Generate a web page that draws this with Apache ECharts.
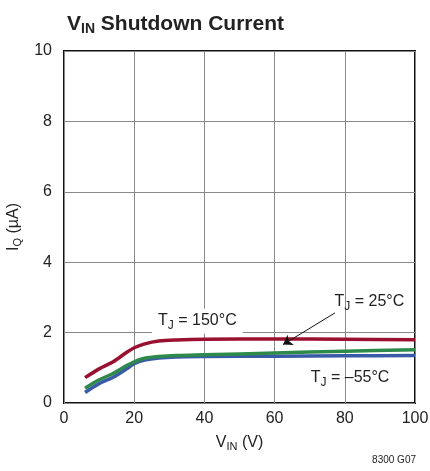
<!DOCTYPE html>
<html><head><meta charset="utf-8">
<script src="https://cdn.jsdelivr.net/npm/echarts@6/dist/echarts.min.js"></script>
<style>html,body{margin:0;padding:0;background:#fff}#c{width:430px;height:471px}</style>
</head><body><div id="c"></div>
<script>
const xTicks = [0, 20, 40, 60, 80, 100];
const yTicks = [0, 2, 4, 6, 8, 10];
const vin = [6, 10, 14, 18, 20, 23, 27, 32, 40, 60, 80, 100];
const t150 = [0.72, 0.97, 1.17, 1.45, 1.57, 1.68, 1.76, 1.79, 1.81, 1.82, 1.81, 1.80];
const t25  = [0.42, 0.66, 0.84, 1.07, 1.17, 1.27, 1.32, 1.35, 1.37, 1.42, 1.47, 1.51];
const tm55 = [0.30, 0.55, 0.73, 0.98, 1.12, 1.22, 1.28, 1.31, 1.32, 1.33, 1.34, 1.35];
const font = '"Liberation Sans Narrow","Arial Narrow","Liberation Sans",Arial,sans-serif';
const pairs = a => vin.map((v, i) => [v, a[i]]);
const chart = echarts.init(document.getElementById('c'));
const lbl = (txt, x, y, bg) => ({
  coord: [x, y], symbol: 'circle', symbolSize: 1, itemStyle: {color: 'rgba(0,0,0,0)'},
  label: {show: true, position: 'inside', formatter: txt, fontFamily: font, fontSize: 16, color: '#222',
    backgroundColor: bg ? '#fff' : 'transparent', padding: [2, 6],
    rich: {s: {fontFamily: font, fontSize: 12, color: '#222', verticalAlign: 'bottom', padding: [9, 0, 0, 0]}}}
});
chart.setOption({
  animation: false,
  title: {text: 'V{s|IN} Shutdown Current', left: 62, top: 7,
    textStyle: {fontFamily: font, fontSize: 21, fontWeight: 'bold', color: '#222',
      rich: {s: {fontFamily: font, fontSize: 14, fontWeight: 'bold', color: '#222', padding: [10, 0, 0, 0]}}}},
  grid: {left: 64, right: 15, top: 51, bottom: 68, containLabel: false, outerBoundsMode: 'none',
    show: true, borderColor: '#111', borderWidth: 2},
  xAxis: {type: 'value', min: 0, max: 100, interval: 20,
    name: 'V{s|IN} (V)', nameLocation: 'middle', nameGap: 30,
    nameTextStyle: {fontFamily: font, fontSize: 16, color: '#222',
      rich: {s: {fontFamily: font, fontSize: 11, color: '#222', padding: [8, 0, 0, 0]}}},
    axisLine: {show: false}, axisTick: {show: false},
    axisLabel: {fontFamily: font, fontSize: 16, color: '#222', margin: 8, formatter: v => xTicks.includes(v) ? v : ''},
    splitLine: {show: true, lineStyle: {color: '#888', width: 1}}},
  yAxis: {type: 'value', min: 0, max: 10, interval: 2,
    name: 'I{s|Q} (µA)', nameLocation: 'middle', nameGap: 36, nameRotate: 90,
    nameTextStyle: {fontFamily: font, fontSize: 16, color: '#222',
      rich: {s: {fontFamily: font, fontSize: 11, color: '#222', padding: [8, 0, 0, 0]}}},
    axisLine: {show: false}, axisTick: {show: false},
    axisLabel: {fontFamily: font, fontSize: 16, color: '#222', margin: 12, formatter: v => yTicks.includes(v) ? v : ''},
    splitLine: {show: true, lineStyle: {color: '#888', width: 1}}},
  graphic: [{type: 'text', right: 14, bottom: 6, style: {text: '8300 G07', fontFamily: font, fontSize: 10, fill: '#222'}}],
  series: [
    {type: 'line', data: pairs(t150), smooth: 0.3, showSymbol: false, lineStyle: {color: '#9a1030', width: 3.5}, z: 3,
      markPoint: {data: [lbl('T{s|J} = 150°C', 38, 2.33, true)]}},
    {type: 'line', data: pairs(tm55), smooth: 0.3, showSymbol: false, lineStyle: {color: '#3a5aa8', width: 3.5}, z: 3,
      markPoint: {data: [lbl('T{s|J} = –55°C', 81.5, 0.71, false)]}},
    {type: 'line', data: pairs(t25), smooth: 0.3, showSymbol: false, lineStyle: {color: '#2e8a4a', width: 3.5}, z: 4,
      markPoint: {data: [lbl('T{s|J} = 25°C', 87, 2.87, false)]},
      markLine: {silent: true, symbol: ['none', 'arrow'], symbolSize: 9,
        lineStyle: {color: '#111', width: 1, type: 'solid'}, label: {show: false},
        data: [[{coord: [77.2, 2.56]}, {coord: [62.4, 1.66]}]]}}
  ]
});
</script></body></html>
